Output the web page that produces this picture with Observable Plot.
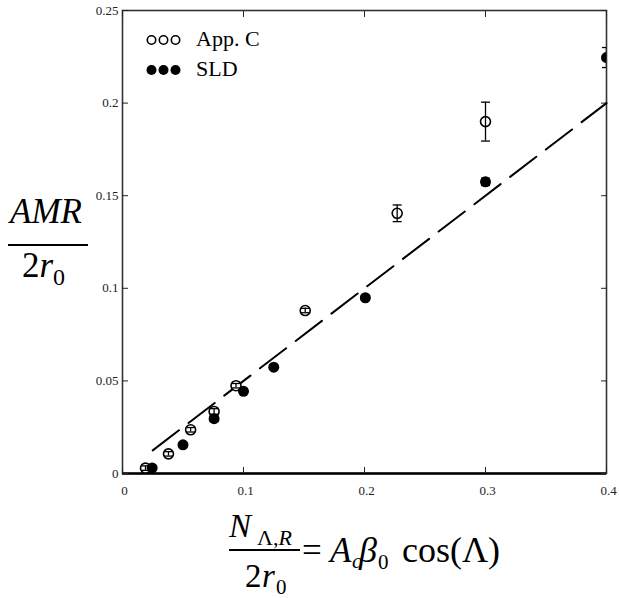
<!DOCTYPE html>
<html><head><meta charset="utf-8">
<script src="https://cdn.jsdelivr.net/npm/d3@7"></script>
<script src="https://cdn.jsdelivr.net/npm/@observablehq/plot@0.6"></script>
<style>
body{margin:0;background:#fff}
#chart{position:relative;width:619px;height:598px}
</style>
</head><body><div id="chart"></div>
<script>
// App. C (open circles)
const appX   = [0.019, 0.038, 0.0563, 0.0757, 0.0938, 0.151, 0.227, 0.300];
const appY   = [0.0029, 0.0106, 0.0236, 0.0335, 0.0474, 0.088, 0.1405, 0.190];
const appErr = [0.0012, 0.0012, 0.0012, 0.0015, 0.0012, 0.0012, 0.0045, 0.0105];
// SLD (filled circles)
const sldX   = [0.0245, 0.050, 0.0757, 0.100, 0.125, 0.2007, 0.300, 0.400];
const sldY   = [0.003, 0.0155, 0.0296, 0.0444, 0.0574, 0.0949, 0.1575, 0.2246];
const sldErr = [0.001, 0.001, 0.0015, 0.001, 0.001, 0.001, 0.002, 0.0054];
// dashed reference line
const fitX = [0.025, 0.4];
const fitY = [0.0125, 0.2];
// ticks
const xTicks = [0, 0.1, 0.2, 0.3, 0.4];
const xTickLabels = ["0", "0.1", "0.2", "0.3", "0.4"];
const yTicks = [0, 0.05, 0.1, 0.15, 0.2, 0.25];
const yTickLabels = ["0", "0.05", "0.1", "0.15", "0.2", "0.25"];
const legendLabels = ["App. C", "SLD"];

const app = appX.map((x, i) => ({x, y: appY[i], e: appErr[i]}));
const sld = sldX.map((x, i) => ({x, y: sldY[i], e: sldErr[i]}));
const fit = fitX.map((x, i) => ({x, y: fitY[i]}));

const capSymbol = {draw(ctx, size) { const w = Math.sqrt(size / Math.PI); ctx.moveTo(-w, 0); ctx.lineTo(w, 0); }};

function errMarks(data) {
  return [
    Plot.ruleX(data, {x: "x", y1: d => d.y - d.e, y2: d => d.y + d.e, stroke: "black", strokeWidth: 1.3, clip: true}),
    Plot.dot(data, {x: "x", y: d => d.y + d.e, symbol: capSymbol, r: 4.5, stroke: "black", strokeWidth: 1.3, fill: "none", clip: true}),
    Plot.dot(data, {x: "x", y: d => d.y - d.e, symbol: capSymbol, r: 4.5, stroke: "black", strokeWidth: 1.3, fill: "none", clip: true})
  ];
}

const xFmt = d => xTickLabels[xTicks.indexOf(d)];
const yFmt = d => yTickLabels[yTicks.indexOf(d)];
const blank = () => "";

const chart = Plot.plot({
  width: 619, height: 598,
  marginLeft: 122, marginRight: 13, marginTop: 10, marginBottom: 125,
  style: {fontFamily: "'Liberation Serif','Times New Roman',serif", fontSize: "13px", color: "#222", background: "#fff"},
  x: {domain: [0, 0.4], label: null},
  y: {domain: [0, 0.25], label: null},
  marks: [
    Plot.frame({stroke: "#333", strokeWidth: 1.6}),
    Plot.ruleY([0], {stroke: "black", strokeWidth: 2.5}),
    Plot.axisX(xTicks, {anchor: "bottom", tickSize: -6, tickFormat: blank, label: null}),
    Plot.axisX(xTicks, {anchor: "top", tickSize: -6, tickFormat: blank, label: null}),
    Plot.axisY(yTicks, {anchor: "left", tickSize: -6, tickFormat: blank, label: null}),
    Plot.axisY(yTicks, {anchor: "right", tickSize: -6, tickFormat: blank, label: null}),
    Plot.axisX(xTicks, {anchor: "bottom", tickSize: 0, tickPadding: 12, dx: 2, tickFormat: xFmt, label: null}),
    Plot.axisY(yTicks, {anchor: "left", tickSize: 0, tickPadding: 4, tickFormat: yFmt, label: null}),
    Plot.line(fit, {x: "x", y: "y", stroke: "black", strokeWidth: 2, strokeDasharray: "33,12"}),
    Plot.dot(app, {x: "x", y: "y", r: 5, stroke: "black", strokeWidth: 1.6, fill: "white", clip: true}),
    ...errMarks(app),
    Plot.dot(sld, {x: "x", y: "y", r: 5.5, fill: "black", stroke: "none", clip: true}),
    ...errMarks(sld)
  ]
});
document.getElementById("chart").appendChild(chart);

// legend and math axis titles drawn as real text in the same SVG
const svg = d3.select(chart);
const serif = "'Liberation Serif','Times New Roman',serif";
const g = svg.append("g").attr("font-family", serif).attr("fill", "black").attr("text-anchor", "start");

// legend
[0, 1].forEach(row => {
  const cy = row === 0 ? 40 : 70;
  [151.5, 163.5, 175.5].forEach(cx => {
    g.append("circle").attr("cx", cx).attr("cy", cy).attr("r", row === 0 ? 4.2 : 5)
      .attr("fill", row === 0 ? "white" : "black")
      .attr("stroke", row === 0 ? "black" : "none").attr("stroke-width", 1.6);
  });
  g.append("text").attr("x", 196).attr("y", cy + 6).attr("font-size", 22).text(legendLabels[row]);
});

function t(x, y, s, size, italic) {
  return g.append("text").attr("x", x).attr("y", y).attr("font-size", size)
    .attr("font-style", italic ? "italic" : "normal").text(s);
}
// y title: AMR / 2r0
t(10, 223, "AMR", 35, true);
g.append("line").attr("x1", 8).attr("x2", 88).attr("y1", 245).attr("y2", 245).attr("stroke", "black").attr("stroke-width", 2);
t(22, 277, "2", 35, false);
t(39.5, 277, "r", 35, true);
t(53, 285, "0", 24, false);

// x title: N_{Λ,R} / 2r0 = A_c β_0 cos(Λ)
t(229, 537, "N", 33, true);
const sub = g.append("text").attr("x", 257).attr("y", 545).attr("font-size", 22);
sub.append("tspan").text("Λ,");
sub.append("tspan").attr("font-style", "italic").text("R");
g.append("line").attr("x1", 229).attr("x2", 300).attr("y1", 550).attr("y2", 550).attr("stroke", "black").attr("stroke-width", 2);
t(245, 587, "2", 33, false);
t(262, 587, "r", 33, true);
t(276, 594, "0", 21, false);
t(302, 562, "=", 35, false);
t(330, 562, "A", 35, true);
t(352, 568, "c", 21, true);
t(359, 562, "β", 36, true);
t(378, 569, "0", 21, false);
t(402, 562, "cos(Λ)", 36, false);
</script>
</body></html>
